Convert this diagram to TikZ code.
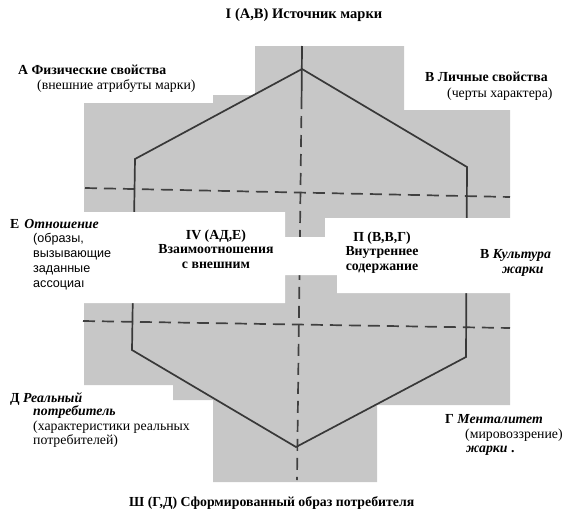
\documentclass[tikz,border=0pt]{standalone}
\usepackage{fontspec}
\setmainfont{Liberation Serif}
\newfontfamily\sansfnt{Liberation Sans}

\begin{document}
\begin{tikzpicture}[
    x=1pt, y=-1pt,
    paper/.style={fill=black!22, draw=none},
    blank/.style={fill=white, draw=none},
    edge/.style={line width=1.7pt, draw=black!78, line join=miter},
    axis/.style={line width=1.7pt, draw=black!75, dash pattern=on 12pt off 7pt},
    txt/.style={inner sep=0pt, anchor=base west, font=\fontsize{13.8}{15}\selectfont},
    hd/.style={txt, font=\fontsize{13.8}{15}\selectfont\bfseries},
    note/.style={inner sep=0pt, anchor=base west, align=left,
                 font=\sansfnt\fontsize{12.6}{14.7}\selectfont},
    quad/.style={inner sep=0pt, anchor=base, align=center,
                 font=\fontsize{13.8}{14.5}\selectfont\bfseries}
]
    \useasboundingbox (0,0) rectangle (579,520);

    % Paper background
    \fill[paper] (255,46) -- (404,46) -- (404,110) -- (510,110) -- (510,405)
        -- (377,405) -- (377,482) -- (213,482) -- (213,400) -- (173,400)
        -- (173,385) -- (84,385) -- (84,103) -- (213,103) -- (213,95)
        -- (255,95) -- cycle;

    % Corners of the figure
    \coordinate (apexT) at (302,69);
    \coordinate (ulv) at (135,159);
    \coordinate (urv) at (467,167);
    \coordinate (lrv) at (466,357);
    \coordinate (apexB) at (296,447);
    \coordinate (llv) at (132,350);

    % Axes
    \coordinate (vtop) at (302,46);
    \coordinate (vbrk) at (301.6,97);
    \coordinate (vbot) at (297,480);
    \coordinate (hl1) at (85,188);
    \coordinate (hr1) at (510,197);
    \coordinate (hl2) at (83,321);
    \coordinate (hr2) at (510,328);

    \draw[edge] (vtop) -- (vbrk);
    \draw[axis] (vbrk) -- (vbot);
    \draw[axis] (hl1) -- (hr1);
    \draw[axis] (hl2) -- (hr2);

    % Outline
    \draw[edge] (apexT) -- (urv) -- (lrv) -- (apexB) -- (llv) -- (ulv) -- cycle;

    % Middle band
    \fill[blank] (80,212) -- (285,212) -- (285,237) -- (325,237) -- (325,218)
        -- (512,218) -- (512,293) -- (337,293) -- (337,275) -- (285,275)
        -- (285,303) -- (80,303) -- cycle;

    % Titles
    \node (src) [hd, anchor=base, font=\fontsize{14.5}{15}\selectfont\bfseries]
        at (304,18) {I (А,В) Источник марки};
    \node (img) [hd] at (129,506) {Ш (Г,Д) Сформированный образ потребителя};

    % Corner labels
    \node (phys) [hd] at (18,74) {А Физические свойства};
    \node (physn) [txt] at (37,89) {(внешние атрибуты марки)};
    \node (pers) [hd] at (425,81) {В Личные свойства};
    \node (persn) [txt] at (447,97) {(черты характера)};

    \node (rel) [hd] at (10,228) {Е\hspace{5pt}\textit{Отношение}};
    \node (reln) [note] at (33,287) {(образы,\\вызывающие\\заданные\\ассоциаı};

    \node (cult) [hd] at (480,258) {В \textit{Культура}};
    \node (cultn) [hd] at (502,273) {\textit{жарки}};

    \node (cons) [hd] at (10,402) {Д \textit{Реальный}};
    \node (cons2) [hd] at (33,415) {\textit{потребитель}};
    \node (consn) [txt] at (33,430) {(характеристики реальных};
    \node (consn2) [txt] at (33,444) {потребителей)};

    \node (ment) [hd] at (445,423) {Г \textit{Менталитет}};
    \node (mentn) [txt] at (465,438) {(мировоззрение)};
    \node (ment2) [hd] at (466,452) {\textit{жарки} .};

    % Quadrants
    \node (q4) [quad] at (216,268) {IV (АД,Е)\\Взаимоотношения\\с внешним};
    \node (q2) [quad] at (382,270) {П (В,В,Г)\\Внутреннее\\содержание};
\end{tikzpicture}
\end{document}
